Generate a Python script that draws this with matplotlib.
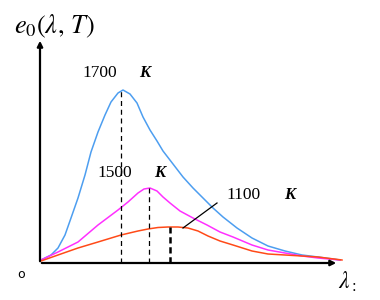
import matplotlib
matplotlib.use("Agg")
import matplotlib.pyplot as plt

plt.rcParams['mathtext.fontset'] = 'stix'

# curve data (lambda, e0)
lam_1700 = [1, 11, 18, 25, 31, 38, 45, 51, 58, 65, 71, 78, 83, 90, 97, 103, 110, 117, 123,
            133, 143, 153, 163, 173, 183, 197, 212, 228, 245, 262, 278, 300]
e_1700 = [3, 8, 15, 28, 45, 65, 88, 111, 131, 148, 161, 170, 173, 169, 160, 146, 133, 122, 112,
          99, 86, 75, 65, 55, 46, 35, 25, 17, 12, 8, 6, 3]

lam_1500 = [1, 18, 38, 58, 78, 88, 98, 104, 110, 117, 123, 130, 140, 153, 167, 180, 193,
            212, 228, 245, 262, 278, 300]
e_1500 = [3, 11, 21, 38, 53, 61, 70, 74, 75, 72, 66, 60, 52, 45, 38, 31, 26,
          18, 13, 10, 7, 5, 3]

lam_1100 = [1, 18, 38, 58, 81, 98, 108, 118, 128, 138, 148, 158, 168, 180, 193, 212, 228,
            245, 262, 278, 302]
e_1100 = [2, 8, 15, 21, 28, 32, 34, 35.5, 36, 36, 35, 32, 27, 22, 18, 12, 9,
          8, 7, 6, 3]

peak_lam = [81, 109, 130]
peak_e = [173, 75, 36]

labels = ["1700", "1500", "1100"]
label_pos = [(60, 190), (75, 90), (204, 68)]
k_pos = [(105, 190), (120, 90), (250, 68)]

fig = plt.figure(figsize=(3.8, 3.0), dpi=100)
ax = fig.add_axes([0, 0, 1, 1])
ax.set_xlim(-40, 340)
ax.set_ylim(-37, 263)
ax.axis('off')

ax.plot(lam_1700, e_1700, color='#4d9ef0', lw=1.1, solid_joinstyle='round')
ax.plot(lam_1500, e_1500, color='#ff30ff', lw=1.1, solid_joinstyle='round')
ax.plot(lam_1100, e_1100, color='#ff4a18', lw=1.1, solid_joinstyle='round')

ax.plot([peak_lam[0]] * 2, [0, peak_e[0]], color='black', lw=0.9, ls=(0, (4, 3)))
ax.plot([peak_lam[1]] * 2, [0, peak_e[1]], color='black', lw=0.9, ls=(0, (4, 3)))
ax.plot([peak_lam[2]] * 2, [0, peak_e[2]], color='black', lw=1.8, ls=(0, (2.5, 1.5)))

# leader line
ax.plot([143, 177], [35, 60], color='black', lw=0.9)

# axes with arrows
ax.annotate('', xy=(0, 225), xytext=(0, -1),
            arrowprops=dict(arrowstyle='-|>', color='black', lw=1.6, mutation_scale=8))
ax.annotate('', xy=(299, 0), xytext=(-1, 0),
            arrowprops=dict(arrowstyle='-|>', color='black', lw=1.6, mutation_scale=8))

for t, (x, y) in zip(labels, label_pos):
    ax.text(x, y, t, fontsize=12.5, family='Liberation Serif', ha='center', va='center')
for (x, y) in k_pos:
    ax.text(x, y, 'K', fontsize=12, family='Liberation Serif', style='italic',
            weight='bold', ha='center', va='center')

ax.text(-26, 237, r'$e_0(\lambda,\,T)$', fontsize=19, ha='left', va='center')
ax.text(-19, -11, 'o', fontsize=9, family='DejaVu Sans', ha='center', va='center')
ax.text(307, -19, r'$\lambda_{:}$', fontsize=17, ha='center', va='center')

fig.savefig('out.png', dpi=100)
